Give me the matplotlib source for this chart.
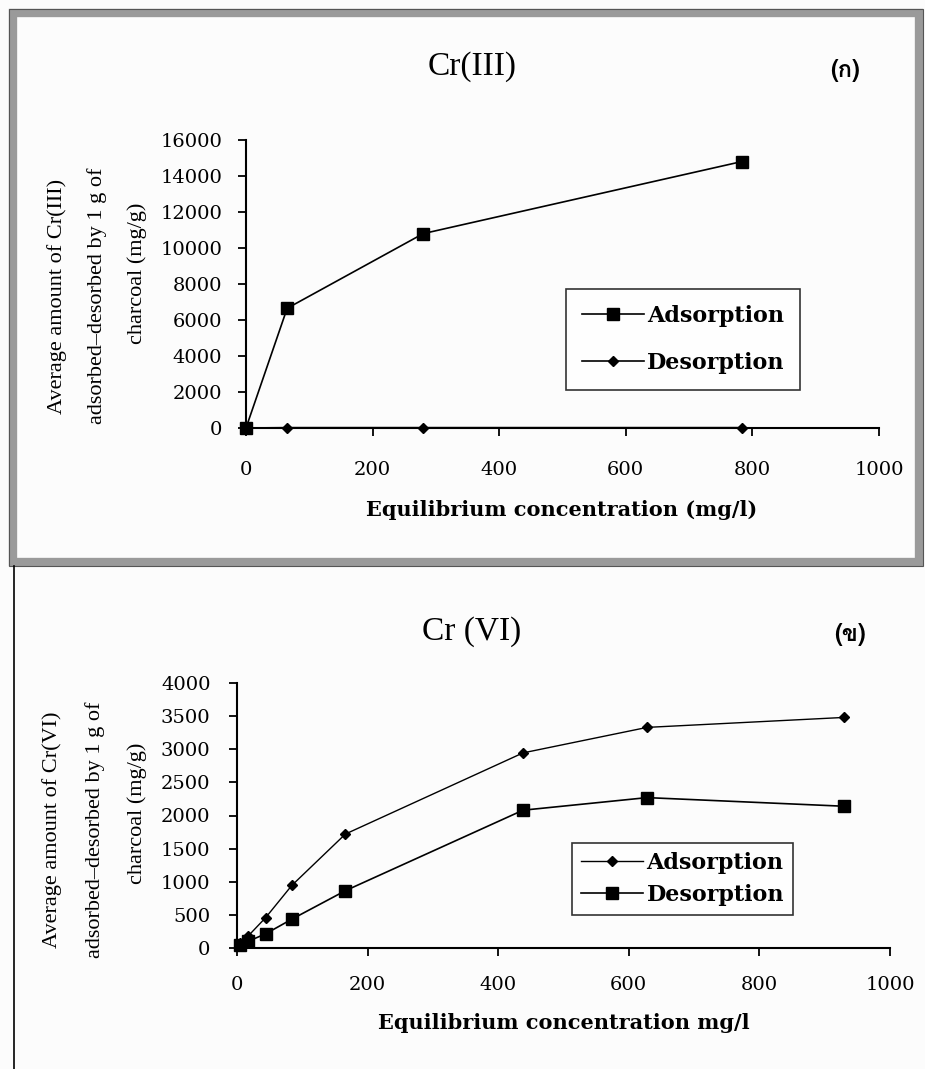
import matplotlib
matplotlib.use("Agg")
import matplotlib.pyplot as plt
from matplotlib import font_manager
from matplotlib.ft2font import FT2Font
from matplotlib.patches import Rectangle
from matplotlib.lines import Line2D

# Cr(III) adsorption / desorption
cr3_conc = [0, 65, 280, 783]
cr3_ads = [0, 6650, 10800, 14800]
cr3_des = [0, 20, 20, 20]

# Cr(VI) adsorption / desorption
cr6_conc = [5, 17, 44, 84, 166, 438, 628, 929]
cr6_ads = [70, 180, 460, 945, 1720, 2945, 3330, 3480]
cr6_des = [50, 100, 215, 435, 865, 2080, 2270, 2140]

W, H = 925, 1069
fig = plt.figure(figsize=(W / 100, H / 100), dpi=100)
fig.patch.set_facecolor("#fcfcfc")


# look for an installed font that carries Thai letters
def find_thai_font():
    for f in font_manager.fontManager.ttflist:
        try:
            if 0x0E01 in FT2Font(f.fname).get_charmap():
                return f.name
        except Exception:
            pass
    return None


thai_name = find_thai_font()
thai = ([thai_name] if thai_name else []) + ["DejaVu Sans"]
tick_font = "DejaVu Serif"
label_font = "Liberation Serif"


def px_axes(left, top, right, bottom):
    return fig.add_axes([left / W, 1 - bottom / H, (right - left) / W, (bottom - top) / H])


def style(ax, yticks, ylim, ypad, xpad):
    ax.set_xlim(0, 1000)
    ax.set_ylim(*ylim)
    ax.set_xticks([0, 200, 400, 600, 800, 1000])
    ax.set_yticks(yticks)
    ax.spines["top"].set_visible(False)
    ax.spines["right"].set_visible(False)
    for s in ("left", "bottom"):
        ax.spines[s].set_linewidth(1.5)
    ax.tick_params(axis="both", direction="out", length=6, width=1.3)
    ax.tick_params(axis="y", pad=ypad)
    ax.tick_params(axis="x", pad=xpad)
    for t in ax.get_xticklabels() + ax.get_yticklabels():
        t.set_fontfamily(tick_font)
        t.set_fontsize(14)
    ax.patch.set_alpha(0)


def px_text(x, y, s, **kw):
    fig.text(x / W, 1 - y / H, s, ha="center", va="center", **kw)


# ---- panel frames ----
fig.add_artist(Rectangle((13 / W, 1 - 562 / H), 906 / W, 549 / H, transform=fig.transFigure,
                         fill=False, edgecolor="#9a9a9a", linewidth=6))
fig.add_artist(Rectangle((9 / W, 1 - 566 / H), 914 / W, 557 / H, transform=fig.transFigure,
                         fill=False, edgecolor="#555555", linewidth=0.8))
fig.add_artist(Line2D([14 / W, 14 / W], [0, 1 - 566 / H], transform=fig.transFigure,
                      color="black", linewidth=1.2))

# ---- Cr(III) ----
ax1 = px_axes(246, 140, 879, 428)
ax1.plot(cr3_conc, cr3_ads, color="black", lw=1.2, marker="s", ms=9,
         label="Adsorption", clip_on=False, zorder=3)
ax1.plot(cr3_conc, cr3_des, color="black", lw=1.2, marker="D", ms=5.5,
         label="Desorption", clip_on=False, zorder=3)
style(ax1, range(0, 16001, 2000), (0, 16000), 11, 18)
leg1 = ax1.legend(loc="upper left", bbox_to_anchor=((566 - 246) / 633, (428 - 289) / 288),
                  frameon=True, fancybox=False, edgecolor="black", borderpad=0.7,
                  handlelength=2.8, handletextpad=0.15, labelspacing=1.15, borderaxespad=0,
                  prop={"family": tick_font, "weight": "bold", "size": 16})
leg1.get_frame().set_linewidth(1.2)

px_text(472, 67, "Cr(III)", family=label_font, fontsize=24)
px_text(845, 70, "(ก)", family=thai, fontsize=17, fontweight="bold")
px_text(562, 510, "Equilibrium concentration (mg/l)", family=tick_font,
        fontsize=15, fontweight="bold")
ylab1 = ["Average amount of Cr(III)", "adsorbed\u2013desorbed by 1 g of", "charcoal (mg/g)"]
for x, s in zip([57, 97, 137], ylab1):
    px_text(x, 296 if x < 130 else 273, s, family=label_font, fontsize=16, rotation=90)

# ---- Cr(VI) ----
ax2 = px_axes(237, 683, 890, 948)
ax2.plot(cr6_conc, cr6_ads, color="black", lw=1.0, marker="D", ms=5.5,
         label="Adsorption", clip_on=False, zorder=3)
ax2.plot(cr6_conc, cr6_des, color="black", lw=1.2, marker="s", ms=9,
         label="Desorption", clip_on=False, zorder=3)
style(ax2, range(0, 4001, 500), (0, 4000), 13, 14)
leg2 = ax2.legend(loc="upper left", bbox_to_anchor=((572 - 237) / 653, (948 - 843) / 265),
                  frameon=True, fancybox=False, edgecolor="black", borderpad=0.4,
                  handlelength=2.8, handletextpad=0.15, labelspacing=0.45, borderaxespad=0,
                  prop={"family": tick_font, "weight": "bold", "size": 16})
leg2.get_frame().set_linewidth(1.2)

px_text(472, 632, "Cr (VI)", family=label_font, fontsize=24)
px_text(850, 634, "(ข)", family=thai, fontsize=17, fontweight="bold")
px_text(564, 1023, "Equilibrium concentration mg/l", family=tick_font,
        fontsize=15, fontweight="bold")
ylab2 = ["Average amount of Cr(VI)", "adsorbed\u2013desorbed by 1 g of", "charcoal (mg/g)"]
for x, s in zip([52, 95, 137], ylab2):
    px_text(x, 830 if x < 130 else 813, s, family=label_font, fontsize=16, rotation=90)

fig.savefig("out.png", dpi=100, facecolor=fig.get_facecolor())
